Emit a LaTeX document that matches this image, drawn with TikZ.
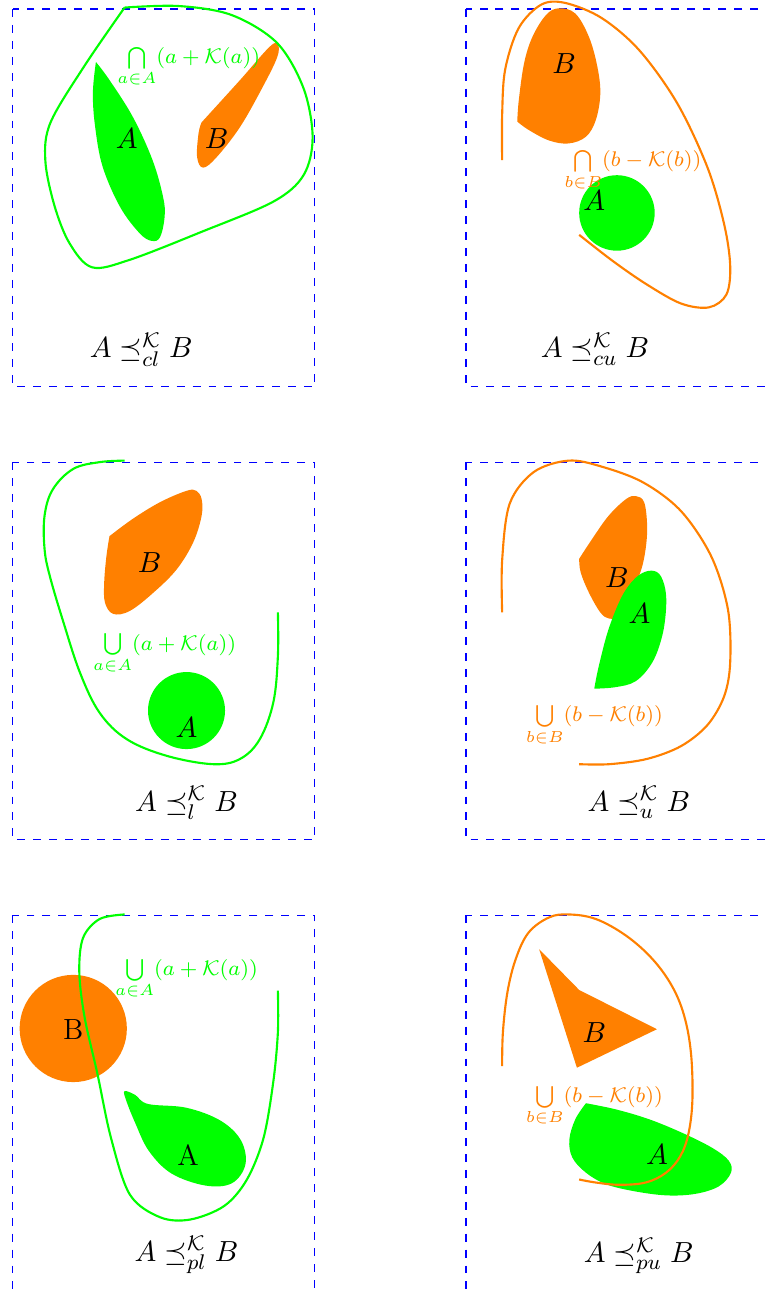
\documentclass[tikz,border=0pt]{standalone}
\usepackage{amsmath}
\usepackage{amssymb}
\usepackage{xcolor}
\usepackage{tikz}
\usetikzlibrary{calc}
\definecolor{kgreen}{HTML}{00FF00}
\definecolor{korange}{HTML}{FF8000}
\definecolor{kframe}{HTML}{0000FF}
\tikzset{
  frame/.style={draw=kframe,dashed,line width=0.45pt},
  setA/.style={fill=kgreen,draw=none},
  setB/.style={fill=korange,draw=none},
  hullA/.style={draw=kgreen,line width=0.8pt},
  hullB/.style={draw=korange,line width=0.8pt},
  setlbl/.style={inner sep=0pt,font=\fontsize{11}{13}\selectfont},
  hulllbl/.style={inner sep=0pt,anchor=base west,font=\fontsize{8.2}{10}\selectfont},
  rellbl/.style={inner sep=0pt,anchor=base,font=\fontsize{11}{13}\selectfont},
}

\begin{document}
\begin{tikzpicture}
  \useasboundingbox (-0.17,0.12) rectangle (9.96,-16.99);
  % frames
  \foreach \col in {0,6}
    \foreach \row in {0,-6,-12}
      \draw[frame] (\col,\row) rectangle ++(4,-5);

  % cl
  \begin{scope}
    \fill[setA] plot[smooth,tension=0.6] coordinates {(1.10,-0.70) (1.28,-0.94) (1.59,-1.43) (1.85,-2.00) (1.99,-2.49) (2.01,-2.75) (1.95,-3.02) (1.84,-3.07) (1.68,-2.97) (1.42,-2.62) (1.19,-2.09) (1.09,-1.56) (1.06,-1.11) (1.10,-0.70)};
    \fill[setB] plot[smooth,tension=0.6] coordinates {(2.50,-1.50) (3.00,-0.95) (3.40,-0.50) (3.51,-0.47) (3.50,-0.64) (3.31,-1.03) (3.01,-1.56) (2.70,-1.96) (2.52,-2.10) (2.44,-1.96) (2.46,-1.64) (2.50,-1.50)};
    \draw[hullA] plot[smooth,tension=0.55] coordinates {(1.48,0.02) (2.20,0.04) (2.90,-0.08) (3.50,-0.45) (3.85,-1.05) (3.97,-1.70) (3.85,-2.20) (3.45,-2.55) (2.50,-2.95) (1.55,-3.32) (1.05,-3.42) (0.75,-3.10) (0.55,-2.60) (0.43,-2.00) (0.50,-1.50) (0.95,-0.75) (1.48,0.02)};
    \node[setlbl] (A1) at (1.51,-1.71) {$A$};
    \node[setlbl] (B1) at (2.70,-1.71) {$B$};
    \node[hulllbl,text=kgreen] (hull1) at (1.38,-0.72) {$\bigcap\limits_{a\in A}(a+\mathcal{K}(a))$};
    \node[rellbl] (rel1) at (1.70,-4.62) {$A \preceq^{\mathcal{K}}_{cl} B$};
  \end{scope}

  % cu
  \begin{scope}[shift={(6,0)}]
    \fill[setB] plot[smooth,tension=0.6] coordinates {(0.68,-1.49) (0.70,-1.21) (0.77,-0.72) (0.88,-0.37) (1.06,-0.08) (1.23,0.01) (1.45,-0.06) (1.63,-0.37) (1.74,-0.76) (1.78,-1.12) (1.72,-1.47) (1.59,-1.69) (1.36,-1.78) (1.10,-1.74) (0.83,-1.60) (0.68,-1.49)};
    \fill[setA] (2.00,-2.70) circle (0.50);
    \draw[hullB] plot[smooth,tension=0.55] coordinates {(0.48,-2.00) (0.48,-1.40) (0.52,-0.80) (0.70,-0.25) (1.00,0.06) (1.32,0.08) (1.80,-0.12) (2.30,-0.55) (2.80,-1.25) (3.20,-2.10) (3.42,-2.85) (3.50,-3.40) (3.45,-3.78) (3.22,-3.95) (2.85,-3.90) (2.40,-3.65) (1.95,-3.34) (1.50,-2.99)};
    \node[setlbl] (A2) at (1.70,-2.53) {$A$};
    \node[setlbl] (B2) at (1.30,-0.72) {$B$};
    \node[hulllbl,text=korange] (hull2) at (1.30,-2.09) {$\bigcap\limits_{b\in B}(b-\mathcal{K}(b))$};
    \node[rellbl] (rel2) at (1.71,-4.62) {$A \preceq^{\mathcal{K}}_{cu} B$};
  \end{scope}

  % l
  \begin{scope}[shift={(0,-6)}]
    \fill[setB] plot[smooth,tension=0.6] coordinates {(1.28,-0.98) (1.59,-0.75) (1.95,-0.53) (2.30,-0.38) (2.43,-0.38) (2.50,-0.49) (2.50,-0.71) (2.39,-1.06) (2.17,-1.42) (1.86,-1.73) (1.55,-1.97) (1.33,-2.01) (1.22,-1.86) (1.21,-1.59) (1.24,-1.24) (1.28,-0.98)};
    \fill[setA] (2.30,-3.29) circle (0.51);
    \draw[hullA] plot[smooth,tension=0.6] coordinates {(1.48,0.02) (1.15,0.00) (0.80,-0.09) (0.53,-0.36) (0.42,-0.71) (0.42,-1.15) (0.49,-1.51) (0.67,-2.12) (0.89,-2.79) (1.15,-3.32) (1.51,-3.67) (2.04,-3.89) (2.65,-4.00) (3.01,-3.93) (3.27,-3.67) (3.45,-3.18) (3.51,-2.57) (3.51,-1.99)};
    \node[setlbl] (A3) at (2.30,-3.52) {$A$};
    \node[setlbl] (B3) at (1.81,-1.33) {$B$};
    \node[hulllbl,text=kgreen] (hull3) at (1.06,-2.49) {$\bigcup\limits_{a\in A}(a+\mathcal{K}(a))$};
    \node[rellbl] (rel3) at (2.30,-4.62) {$A \preceq^{\mathcal{K}}_{l} B$};
  \end{scope}

  % u
  \begin{scope}[shift={(6,-6)}]
    \fill[setB] plot[smooth,tension=0.6] coordinates {(1.50,-1.28) (1.67,-1.02) (1.89,-0.71) (2.12,-0.49) (2.25,-0.45) (2.36,-0.53) (2.40,-0.84) (2.38,-1.15) (2.31,-1.46) (2.16,-1.77) (2.00,-2.04) (1.89,-2.07) (1.78,-1.99) (1.63,-1.73) (1.52,-1.46) (1.50,-1.28)};
    \fill[setA] plot[smooth,tension=0.6] coordinates {(1.70,-3.00) (1.76,-2.70) (1.89,-2.21) (2.07,-1.77) (2.25,-1.53) (2.42,-1.44) (2.56,-1.48) (2.64,-1.68) (2.65,-1.95) (2.60,-2.30) (2.47,-2.65) (2.25,-2.90) (1.98,-2.98) (1.70,-3.00)};
    \draw[hullB] plot[smooth,tension=0.55] coordinates {(0.48,-1.99) (0.48,-1.30) (0.58,-0.55) (0.90,-0.13) (1.36,0.02) (1.80,-0.06) (2.35,-0.27) (2.85,-0.65) (3.25,-1.25) (3.47,-1.95) (3.50,-2.65) (3.42,-3.10) (3.20,-3.48) (2.85,-3.76) (2.40,-3.93) (1.90,-4.00) (1.50,-4.00)};
    \node[setlbl] (A4) at (2.30,-2.01) {$A$};
    \node[setlbl] (B4) at (2.00,-1.53) {$B$};
    \node[hulllbl,text=korange] (hull4) at (0.79,-3.44) {$\bigcup\limits_{b\in B}(b-\mathcal{K}(b))$};
    \node[rellbl] (rel4) at (2.29,-4.62) {$A \preceq^{\mathcal{K}}_{u} B$};
  \end{scope}

  % pl
  \begin{scope}[shift={(0,-12)}]
    \fill[setB] (0.80,-1.50) circle (0.71);
    \fill[setA] plot[smooth cycle,tension=0.6] coordinates {(1.48,-2.33) (1.62,-2.38) (1.79,-2.50) (2.30,-2.55) (2.75,-2.72) (3.02,-2.98) (3.08,-3.30) (2.90,-3.55) (2.55,-3.58) (2.10,-3.42) (1.80,-3.12) (1.62,-2.75) (1.50,-2.45)};
    \draw[hullA] plot[smooth,tension=0.55] coordinates {(1.48,0.01) (1.15,-0.05) (0.93,-0.30) (0.88,-0.75) (0.95,-1.35) (1.12,-2.10) (1.30,-2.95) (1.55,-3.70) (1.95,-4.00) (2.35,-4.03) (2.80,-3.85) (3.10,-3.50) (3.32,-2.95) (3.45,-2.20) (3.51,-1.55) (3.51,-1.00)};
    \node[setlbl] (A5) at (2.32,-3.17) {A};
    \node[setlbl] (B5) at (0.80,-1.51) {B};
    \node[hulllbl,text=kgreen] (hull5) at (1.35,-0.80) {$\bigcup\limits_{a\in A}(a+\mathcal{K}(a))$};
    \node[rellbl] (rel5) at (2.30,-4.58) {$A \preceq^{\mathcal{K}}_{pl} B$};
  \end{scope}

  % pu
  \begin{scope}[shift={(6,-12)}]
    \fill[setB] (0.97,-0.45) -- (1.50,-0.99) -- (2.53,-1.51) -- (1.47,-2.02) -- cycle;
    \fill[setA] plot[smooth,tension=0.6] coordinates {(1.59,-2.49) (1.98,-2.57) (2.42,-2.70) (2.86,-2.88) (3.26,-3.08) (3.48,-3.25) (3.51,-3.41) (3.35,-3.59) (3.04,-3.69) (2.65,-3.71) (2.20,-3.65) (1.85,-3.56) (1.59,-3.41) (1.41,-3.21) (1.37,-2.97) (1.45,-2.70) (1.59,-2.49)};
    \draw[hullB] plot[smooth,tension=0.6] coordinates {(0.48,-2.00) (0.49,-1.55) (0.55,-1.02) (0.66,-0.58) (0.83,-0.23) (1.10,-0.03) (1.36,0.01) (1.72,-0.05) (2.12,-0.27) (2.47,-0.58) (2.73,-0.94) (2.89,-1.33) (2.98,-1.82) (3.00,-2.43) (2.95,-2.88) (2.84,-3.19) (2.65,-3.41) (2.38,-3.54) (2.03,-3.57) (1.72,-3.54) (1.50,-3.50)};
    \node[setlbl] (A6) at (2.53,-3.17) {$A$};
    \node[setlbl] (B6) at (1.70,-1.55) {$B$};
    \node[hulllbl,text=korange] (hull6) at (0.79,-2.48) {$\bigcup\limits_{b\in B}(b-\mathcal{K}(b))$};
    \node[rellbl] (rel6) at (2.29,-4.60) {$A \preceq^{\mathcal{K}}_{pu} B$};
  \end{scope}
\end{tikzpicture}
\end{document}
